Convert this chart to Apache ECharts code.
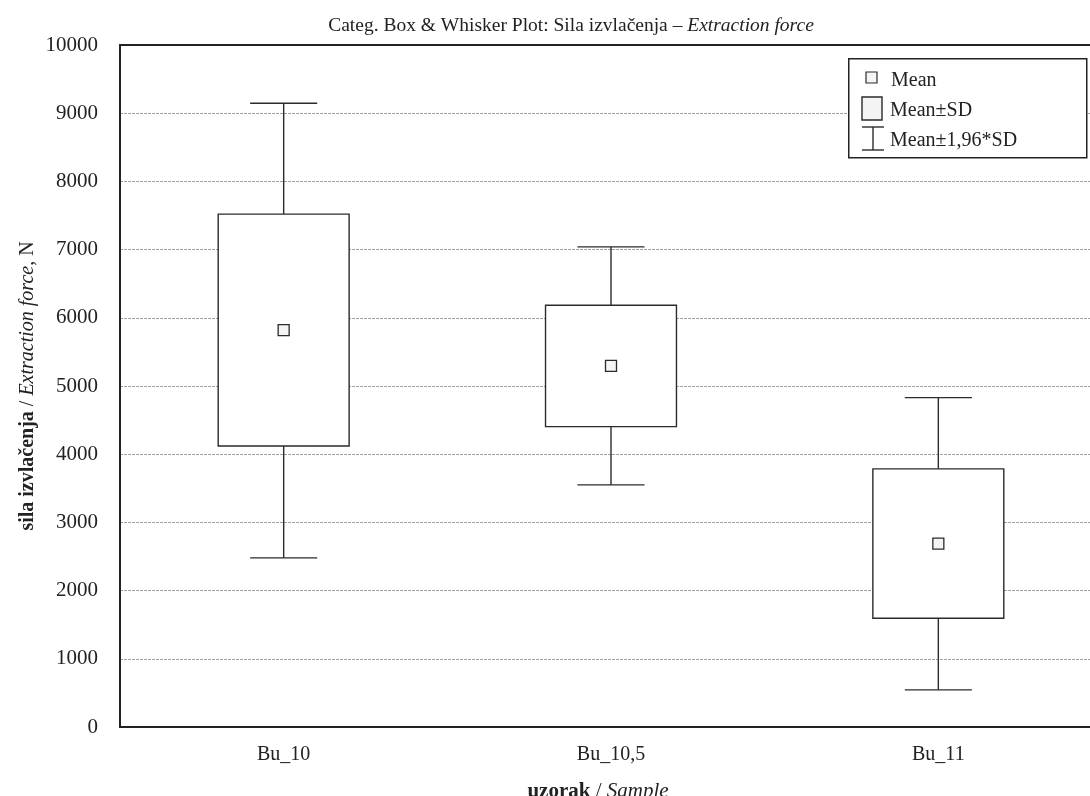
<!DOCTYPE html>
<html>
<head>
<meta charset="utf-8">
<script src="https://cdn.jsdelivr.net/npm/echarts@6/dist/echarts.min.js"></script>
<style>
html,body{margin:0;padding:0;background:#fff;}
#main{width:1090px;height:796px;}
</style>
</head>
<body>
<div id="main"></div>
<script>
// ---- data ----
const categories = ['Bu_10', 'Bu_10,5', 'Bu_11'];
const means      = [5820, 5295, 2690];
const sdLow      = [4120, 4405, 1595];
const sdHigh     = [7520, 6185, 3785];
const whiskLow   = [2480, 3550, 545];
const whiskHigh  = [9145, 7040, 4830];
const yTicks     = [0, 1000, 2000, 3000, 4000, 5000, 6000, 7000, 8000, 9000, 10000];

const FONT = 'Liberation Serif, Times New Roman, serif';
const LINE = '#2b2b2b';

const seriesData = categories.map((c, i) => [i, means[i], sdLow[i], sdHigh[i], whiskLow[i], whiskHigh[i]]);

function renderItem(params, api) {
  const i = api.value(0);
  const band = api.size([1, 0])[0];
  const boxW = band * 0.40;
  const capW = band * 0.205;
  const pMean = api.coord([i, api.value(1)]);
  const pSdL = api.coord([i, api.value(2)]);
  const pSdH = api.coord([i, api.value(3)]);
  const pWL = api.coord([i, api.value(4)]);
  const pWH = api.coord([i, api.value(5)]);
  const x = pMean[0];
  const ls = {stroke: LINE, lineWidth: 1.4};
  const m = 11;
  return {
    type: 'group',
    children: [
      {type: 'line', shape: {x1: x, y1: pWH[1], x2: x, y2: pSdH[1]}, style: ls},
      {type: 'line', shape: {x1: x, y1: pSdL[1], x2: x, y2: pWL[1]}, style: ls},
      {type: 'line', shape: {x1: x - capW / 2, y1: pWH[1], x2: x + capW / 2, y2: pWH[1]}, style: ls},
      {type: 'line', shape: {x1: x - capW / 2, y1: pWL[1], x2: x + capW / 2, y2: pWL[1]}, style: ls},
      {type: 'rect', shape: {x: x - boxW / 2, y: pSdH[1], width: boxW, height: pSdL[1] - pSdH[1]},
        style: {fill: '#ffffff', stroke: LINE, lineWidth: 1.4}},
      {type: 'rect', shape: {x: x - m / 2, y: pMean[1] - m / 2, width: m, height: m},
        style: {fill: '#f4f4f4', stroke: LINE, lineWidth: 1.3}}
    ]
  };
}

const chart = echarts.init(document.getElementById('main'), null, {renderer: 'canvas'});

const legendX = 848, legendY = 58;
const option = {
  backgroundColor: '#ffffff',
  animation: false,
  title: [
    {
      text: '{n|Categ. Box & Whisker Plot: Sila izvlačenja – }{i|Extraction force}',
      left: 566, top: 11, textAlign: 'center',
      textStyle: {
        fontWeight: 'normal',
        rich: {
          n: {fontFamily: FONT, fontSize: 19.5, fontWeight: 'normal', color: '#222'},
          i: {fontFamily: FONT, fontSize: 19.5, fontWeight: 'normal', fontStyle: 'italic', color: '#222'}
        }
      }
    },
    {
      text: '{b|uzorak}{n| / }{i|Sample}',
      left: 593, top: 776, textAlign: 'center',
      textStyle: {
        fontWeight: 'normal',
        rich: {
          b: {fontFamily: FONT, fontSize: 21, fontWeight: 'bold', color: '#222'},
          n: {fontFamily: FONT, fontSize: 21, fontWeight: 'normal', color: '#222'},
          i: {fontFamily: FONT, fontSize: 21, fontWeight: 'normal', fontStyle: 'italic', color: '#222'}
        }
      }
    }
  ],
  grid: {left: 120, right: -12, top: 45, bottom: 69, containLabel: false, outerBoundsMode: 'none'},
  xAxis: [
    {
      type: 'category', data: categories, position: 'bottom', boundaryGap: true,
      axisLine: {lineStyle: {color: '#222', width: 2}},
      axisTick: {inside: true, alignWithLabel: true, length: 5, lineStyle: {color: '#222', width: 1}},
      axisLabel: {fontFamily: FONT, fontSize: 20, color: '#222', margin: 18},
      splitLine: {show: false}
    },
    {
      type: 'category', data: categories, position: 'top', boundaryGap: true,
      axisLine: {lineStyle: {color: '#222', width: 2}},
      axisTick: {inside: true, alignWithLabel: true, length: 5, lineStyle: {color: '#222', width: 1}},
      axisLabel: {show: false},
      splitLine: {show: false}
    }
  ],
  yAxis: {
    type: 'value', min: 0, max: 10000, interval: 1000,
    name: '{b|sila izvlačenja}{n| / }{i|Extraction force}{n|, N}',
    nameLocation: 'middle', nameGap: 82, nameRotate: 90, nameMoveOverlap: false,
    nameTextStyle: {
      rich: {
        b: {fontFamily: FONT, fontSize: 20, fontWeight: 'bold', color: '#222'},
        n: {fontFamily: FONT, fontSize: 20, color: '#222'},
        i: {fontFamily: FONT, fontSize: 20, fontStyle: 'italic', color: '#222'}
      }
    },
    axisLine: {show: true, lineStyle: {color: '#222', width: 2}},
    axisTick: {show: false},
    axisLabel: {fontFamily: FONT, fontSize: 21, color: '#222', margin: 22,
      formatter: v => (yTicks.indexOf(v) >= 0 ? String(v) : '')},
    splitLine: {show: true, lineStyle: {color: '#a0a0a0', width: 1, type: [3, 1]}}
  },
  series: [{
    type: 'custom',
    renderItem: renderItem,
    data: seriesData,
    encode: {x: 0, y: [1, 2, 3, 4, 5]},
    z: 5,
    clip: false
  }],
  graphic: [
    {type: 'rect', left: legendX, top: legendY, z: 10,
      shape: {width: 238, height: 99}, style: {fill: '#ffffff', stroke: '#222', lineWidth: 1.5}},
    {type: 'rect', z: 11, x: 866, y: 72, shape: {width: 11, height: 11},
      style: {fill: '#f4f4f4', stroke: LINE, lineWidth: 1.2}},
    {type: 'text', z: 11, x: 891, y: 81,
      style: {text: 'Mean', font: '20px ' + FONT, fill: '#222', verticalAlign: 'middle'}},
    {type: 'rect', z: 11, x: 862, y: 97, shape: {width: 20, height: 23},
      style: {fill: '#f4f4f4', stroke: LINE, lineWidth: 1.4}},
    {type: 'text', z: 11, x: 890, y: 111,
      style: {text: 'Mean±SD', font: '20px ' + FONT, fill: '#222', verticalAlign: 'middle'}},
    {type: 'line', z: 11, shape: {x1: 862, y1: 127, x2: 884, y2: 127}, style: {stroke: LINE, lineWidth: 1.4}},
    {type: 'line', z: 11, shape: {x1: 862, y1: 150, x2: 884, y2: 150}, style: {stroke: LINE, lineWidth: 1.4}},
    {type: 'line', z: 11, shape: {x1: 873, y1: 127, x2: 873, y2: 150}, style: {stroke: LINE, lineWidth: 1.4}},
    {type: 'text', z: 11, x: 890, y: 141,
      style: {text: 'Mean±1,96*SD', font: '20px ' + FONT, fill: '#222', verticalAlign: 'middle'}}
  ]
};
chart.setOption(option);
</script>
</body>
</html>
